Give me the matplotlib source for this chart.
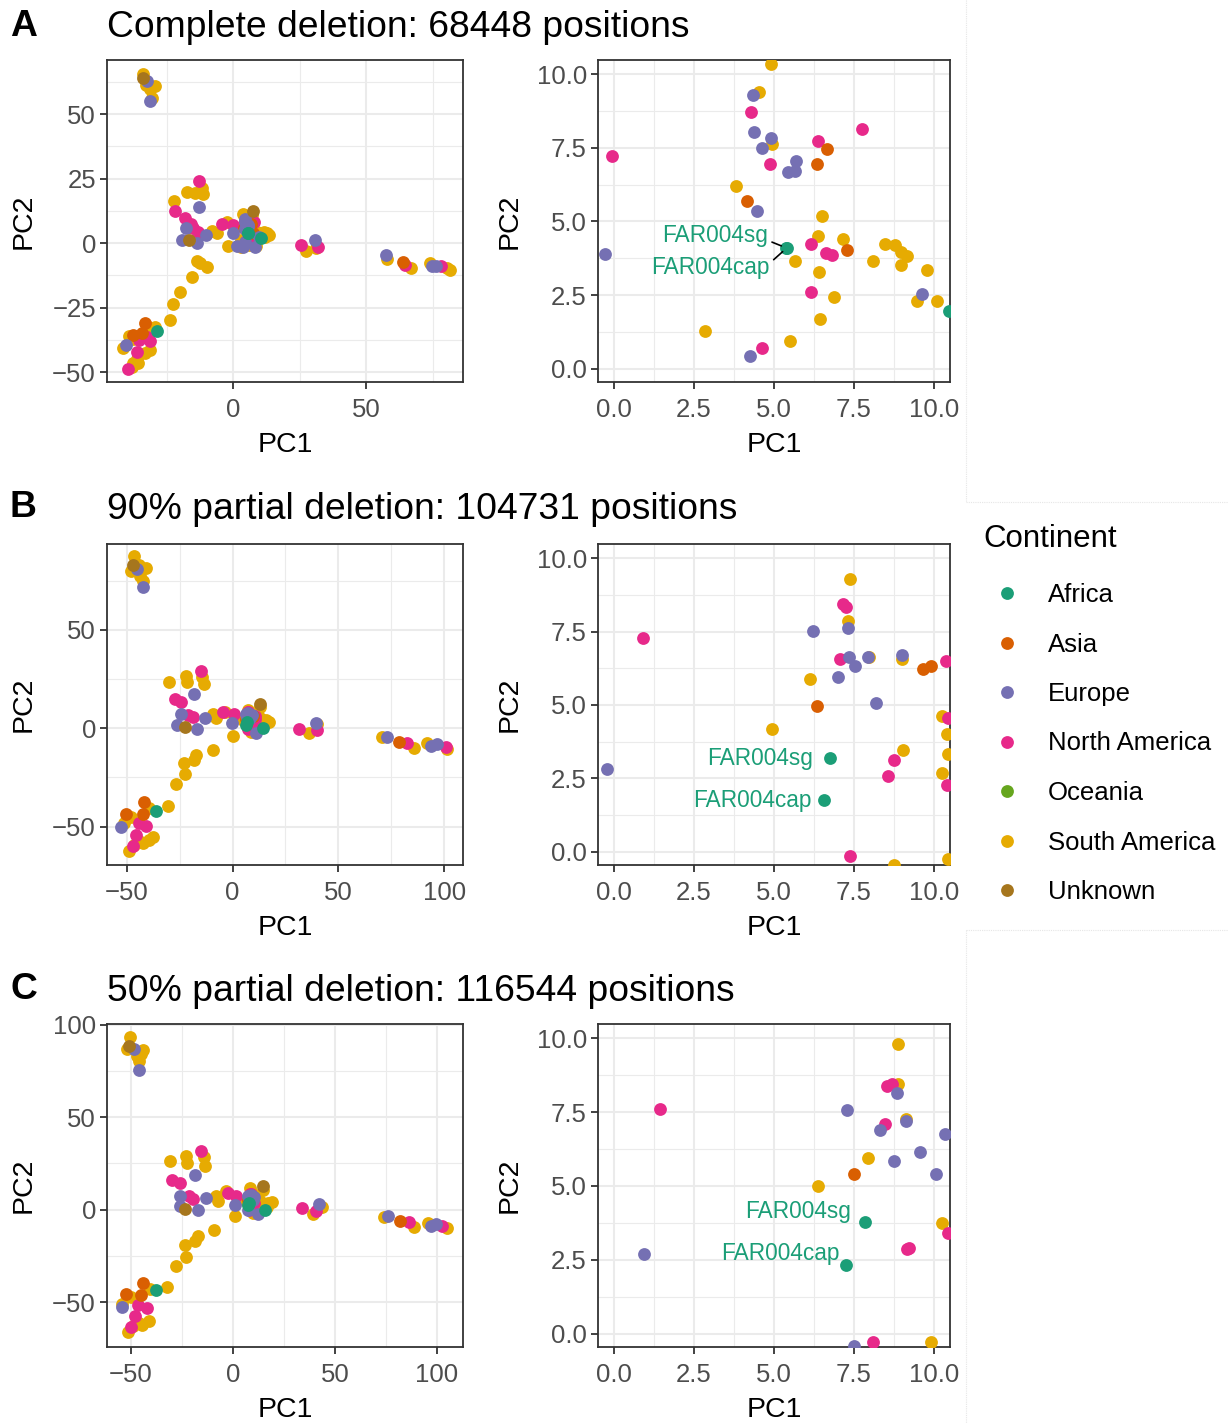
import matplotlib
matplotlib.use('Agg')
import matplotlib.pyplot as plt

plt.rcParams['font.family'] = ['Liberation Sans', 'DejaVu Sans']

continents = ['Africa', 'Asia', 'Europe', 'North America', 'Oceania', 'South America', 'Unknown']
colours = ['#1B9E77', '#D95F02', '#7570B3', '#E7298A', '#66A61E', '#E6AB02', '#A6761D']
draw_order = ['South America', 'North America', 'Asia', 'Europe', 'Unknown', 'Oceania', 'Africa']

letters = ['A', 'B', 'C']
titles = ['Complete deletion: 68448 positions',
          '90% partial deletion: 104731 positions',
          '50% partial deletion: 116544 positions']

# ---- A: complete deletion (PC1, PC2) ----
a_sam = [(-34, 65.7), (-33, 61.5), (-29.4, 60.9), (-31.3, 59.6), (-30.7, 56.3),
         (-11.9, 21.4), (-11.3, 19), (-17.5, 19.8), (-14.4, 19.4), (-22.3, 16.5),
         (-8.1, 4.8), (-6.3, 3.9), (-2.5, 8.4), (-1.9, -1),
         (6.9, 11), (3.8, 11.3), (11.3, 3.2), (12.5, 3.8), (13.5, 3.2), (12, 2.3), (11.5, 4.5),
         (8.5, -1.0), (3, -1.5), (6, -0.8),
         (31, -1.7), (27.3, -3.2),
         (57.9, -6.1), (67, -9.7), (73.9, -7.8), (80.2, -9.7), (81.5, -10.4),
         (-13.8, -6.9), (-12.5, -7.8), (-9.8, -9.1), (-15.7, -13), (-20, -19), (-22.6, -23.7), (-23.8, -29.8),
         (-32.6, -32), (-29.4, -32.4), (-39.1, -36), (-37.6, -37.2), (-41.6, -40.5), (-31.3, -41.4),
         (-33.2, -42.4), (-36.3, -44.7), (-37.6, -46.6), (-38.2, -47.9), (-35.7, -46.6),
         (4.90, 10.34), (4.54, 9.39), (4.95, 7.62), (3.80, 6.22), (6.51, 5.17), (6.39, 4.52),
         (7.15, 4.40), (5.65, 3.67), (6.42, 3.28), (8.08, 3.67), (8.48, 4.24), (8.79, 4.21),
         (8.96, 3.96), (9.17, 3.81), (8.96, 3.51), (9.79, 3.36), (6.89, 2.43), (9.48, 2.29),
         (10.08, 2.29), (6.45, 1.69), (2.85, 1.29), (5.49, 0.95)]
a_nam = [(-12.9, 24.2), (-21.9, 12.6), (-18.2, 9.7), (-15, 5.8), (-13.2, 4.5), (-16, 7.5), (-4.4, 7.4),
         (25.3, -0.6), (32, -1.3), (64.5, -8.4), (78.3, -8.7),
         (-32.6, -36.3), (-31.3, -38), (-35.3, -37.6), (-36.3, -42.1), (-39.5, -48.6),
         (4.27, 8.70), (7.75, 8.14), (6.39, 7.74), (-0.07, 7.21), (4.87, 6.96), (6.17, 4.23),
         (6.63, 3.93), (6.81, 3.85), (6.17, 2.60), (4.64, 0.70)]
a_asia = [(63.7, -7.1), (-33.2, -31.1), (-37.6, -35.4), (-34.5, -35),
          (6.66, 7.45), (6.34, 6.96), (4.15, 5.71), (7.27, 4.02)]
a_eur = [(-32.6, 62.8), (-31.3, 55), (-12.8, 13.9), (-17.8, 5.8), (-19.4, 1.3), (-13.8, 0), (-10.3, 3.2),
         (8.1, -1.3), (3.8, -1.6), (1.5, -1.2), (30.7, 1.3), (57.6, -4.5), (74.9, -8.7), (76.4, -8.7),
         (-40.5, -39.5),
         (4.33, 9.28), (4.38, 8.02), (4.92, 7.83), (4.61, 7.49), (5.68, 7.04), (5.44, 6.67),
         (5.65, 6.72), (4.46, 5.34), (-0.28, 3.91), (9.62, 2.53), (4.25, 0.44)]
a_unk = [(-33.8, 63.9), (-16.5, 1.3), (7.5, 12.6)]
a_afr = [(-28.6, -34.1), (10.47, 1.95), (5.39, 4.10), (5.40, 4.10)]

# ---- B: 90% partial deletion ----
b_sam = [(-46.4, 87.6), (-48, 80.2), (-40.9, 81.4), (-42.5, 75.1), (-43.5, 77.5), (-44, 83),
         (-14.2, 26.3), (-13.4, 22.5), (-22, 26.6), (-21.3, 23.7), (-29.9, 23.7),
         (-9.4, 7.3), (-7.9, 5.1), (-3.5, 8.5), (0.3, -3.9),
         (13.1, 11), (12, 3), (13.5, 4.5), (15, 2.5), (17.3, 3.4), (11.5, 1), (12.5, 5.8),
         (8.7, -1.7), (14.5, 1.5), (16, 4),
         (36.2, -2.2), (40.1, 2),
         (70.8, -4.2), (85.8, -10.2), (92.1, -7.6), (101.5, -10.7),
         (-9.4, -11), (-17.3, -13.6), (-18.1, -16.1), (-22.8, -17.5), (-22.4, -23.2), (-26.8, -28.3), (-30.7, -39.3),
         (-39.4, -40.3), (-48, -44.9), (-51.2, -48.3), (-39.4, -56.8), (-42.5, -58.5), (-46.4, -59.3),
         (-49.1, -62.2), (-44, -57.5), (-37.5, -55.5),
         (7.39, 9.28), (7.31, 7.86), (7.98, 6.64), (8.99, 6.58), (6.11, 5.88), (10.26, 4.63),
         (4.94, 4.17), (10.41, 4.0), (9.02, 3.47), (10.26, 2.68), (10.44, 3.33), (8.76, -0.45), (10.44, -0.23)]
b_nam = [(-15, 29.3), (-27.1, 14.9), (-24.4, 13.2), (-18.9, 5.9), (-21, 7), (-4.7, 8.5),
         (31.5, -0.3), (40.1, -0.8), (82.6, -7.3), (100.7, -9.3),
         (-40.9, -49.7), (-44.1, -48.3), (-45.6, -54.2), (-47, -60),
         (7.15, 8.42), (7.25, 8.34), (0.91, 7.29), (7.07, 6.56), (10.39, 6.49), (10.45, 4.55),
         (8.76, 3.11), (8.57, 2.57), (10.41, 2.29), (7.36, -0.15)]
b_asia = [(78.7, -6.8), (-41.7, -37.3), (-50.4, -43.6), (-42.5, -43.6),
          (9.67, 6.21), (9.90, 6.32), (6.35, 4.98)]
b_eur = [(-44.9, 80.8), (-42.5, 72), (-18.1, 17.3), (-24.4, 7.3), (-26, 1.7), (-17, -0.5), (-12.9, 5.1),
         (11, -2.2), (39.4, 2.5), (73.2, -4.2), (96.8, -8), (93.7, -9), (-52.7, -50.3),
         (7.31, 7.62), (6.22, 7.51), (7.34, 6.64), (7.93, 6.64), (7.54, 6.33), (8.99, 6.70),
         (7.0, 5.94), (8.19, 5.06), (-0.21, 2.83)]
b_unk = [(-47.2, 83.1), (-22.4, 0.8), (13.1, 12.4)]
b_afr = [(14.2, 0), (-36.2, -41.9), (6.76, 3.21), (6.56, 1.78)]

# ---- C: 50% partial deletion ----
c_sam = [(-50.6, 93.3), (-52.2, 86.8), (-44, 86.5), (-46, 80.2), (-47.3, 82.9), (-45, 84),
         (-14.4, 28.3), (-13.9, 23.8), (-23.2, 28.8), (-22.5, 25.2), (-31, 26.1),
         (-8.2, 7.2), (-7.3, 4.5), (-3.3, 9.9), (0.8, -3.6),
         (14.7, 10.8), (8.2, 11.6), (19.2, 4), (12, 3), (13.5, 4.5), (15, 2.5), (17, 3.5),
         (11.5, 1), (10, -1.5), (16.5, 1.5),
         (43.7, 1.4), (39.2, -2.2),
         (74.2, -4), (88.9, -9.4), (95.9, -7.2), (105.2, -9.9),
         (-9.3, -11.2), (-17.1, -14.4), (-18.8, -17.1), (-23.7, -18.9), (-23.2, -25.6), (-28.1, -30.3), (-32.6, -41.8),
         (-40.8, -42.9), (-49.8, -47.2), (-54.2, -50.8), (-41.1, -60.4), (-44.4, -62.2), (-48.9, -62.7),
         (-51.4, -66.3), (-46, -61),
         (8.86, 9.81), (8.89, 8.45), (9.12, 7.26), (7.93, 5.93), (6.37, 4.99), (10.26, 3.74), (9.90, -0.28)]
c_nam = [(-15.5, 31.5), (-29.7, 16.2), (-26.1, 14.4), (-19.6, 5.8), (-21.5, 7.5), (-2.4, 9),
         (33.9, 0.9), (41, -0.5), (86.5, -6.8), (102.8, -8.6),
         (-42.4, -53.2), (-46.5, -51.4), (-48.1, -57.7), (-50, -63.5),
         (8.53, 8.39), (8.68, 8.45), (1.45, 7.60), (8.48, 7.09), (10.45, 3.40), (9.22, 2.91),
         (9.17, 2.88), (8.08, -0.28)]
c_asia = [(82.1, -6.3), (-44, -39.6), (-52.5, -45.4), (-44.9, -45.9), (7.49, 5.41)]
c_eur = [(-48.6, 86.8), (-46, 75.7), (-18.8, 18.6), (-26.1, 7.6), (-26.1, 1.8), (-17.1, 0), (-13, 6.3),
         (12.2, -2.2), (42.4, 3.2), (76.3, -3.6), (99.5, -7.6), (97, -9), (-54.6, -52.6),
         (8.83, 8.16), (7.27, 7.57), (9.12, 7.20), (8.31, 6.88), (10.34, 6.75), (9.55, 6.15),
         (8.76, 5.86), (10.05, 5.42), (0.93, 2.69), (7.51, -0.40)]
c_unk = [(-50.9, 88.6), (-23.7, 0.5), (14.7, 12.6)]
c_afr = [(15.5, 0), (-37.8, -43.6), (7.85, 3.78), (7.25, 2.32)]

# FAR004 label positions (text anchor, right aligned) in the zoomed panels
far_sg = [(4.81, 4.51), (6.21, 3.18), (7.42, 4.13)]
far_cap = [(4.87, 3.43), (6.17, 1.76), (7.04, 2.73)]

rows = [
    {'South America': a_sam, 'North America': a_nam, 'Asia': a_asia, 'Europe': a_eur,
     'Unknown': a_unk, 'Africa': a_afr},
    {'South America': b_sam, 'North America': b_nam, 'Asia': b_asia, 'Europe': b_eur,
     'Unknown': b_unk, 'Africa': b_afr},
    {'South America': c_sam, 'North America': c_nam, 'Asia': c_asia, 'Europe': c_eur,
     'Unknown': c_unk, 'Africa': c_afr},
]
left_lims = [((-47.5, 86.4), (-53.8, 71.0)), ((-59.3, 108.9), (-69.5, 93.7)), ((-61.8, 112.9), (-74.2, 100.4))]
left_xt = [([0, 50], [-25, 25, 75]), ([-50, 0, 50, 100], [-25, 25, 75]), ([-50, 0, 50, 100], [-25, 25, 75])]
left_yt = [([-50, -25, 0, 25, 50], [-37.5, -12.5, 12.5, 37.5, 62.5]),
           ([-50, 0, 50], [-25, 25, 75]), ([-50, 0, 50, 100], [-25, 25, 75])]
zoom_ticks = [0, 2.5, 5, 7.5, 10]
zoom_minor = [1.25, 3.75, 6.25, 8.75]

W, H = 1228, 1423
col = dict(zip(continents, colours))
fig = plt.figure(figsize=(W / 100, H / 100), dpi=100)


def box(l, t, r, b):
    return [l / W, 1 - b / H, (r - l) / W, (b - t) / H]


def fmt(v):
    return f'{v:g}'.replace('-', '\u2212')


def style(ax, major_x, minor_x, major_y, minor_y, xlab, ylab):
    ax.set_xticks(major_x)
    ax.set_xticks(minor_x, minor=True)
    ax.set_yticks(major_y)
    ax.set_yticks(minor_y, minor=True)
    ax.set_xticklabels(xlab)
    ax.set_yticklabels(ylab)
    ax.set_axisbelow(True)
    ax.grid(which='major', color='#EBEBEB', lw=1.5)
    ax.grid(which='minor', color='#EBEBEB', lw=0.8)
    for s in ax.spines.values():
        s.set_color('#333333')
        s.set_linewidth(1.3)
    ax.tick_params(which='major', length=5, width=1.3, color='#333333',
                   labelcolor='#4D4D4D', labelsize=18.5, pad=3)
    ax.tick_params(axis='x', which='major', pad=6.5)
    ax.tick_params(which='minor', length=0)


def draw_points(ax, groups):
    for name in draw_order:
        pts = groups.get(name, [])
        if not pts:
            continue
        xs = [p[0] for p in pts]
        ys = [p[1] for p in pts]
        ax.scatter(xs, ys, s=85, color=col[name], linewidths=0, zorder=3)


tops = [60, 544, 1024]
bottoms = [382, 865, 1347]
letter_base = [36, 517, 999]
title_base = [37, 519, 1001]

for i in range(3):
    t, b = tops[i], bottoms[i]
    groups = rows[i]

    axl = fig.add_axes(box(107, t, 463, b))
    draw_points(axl, groups)
    axl.set_xlim(*left_lims[i][0])
    axl.set_ylim(*left_lims[i][1])
    style(axl, left_xt[i][0], left_xt[i][1], left_yt[i][0], left_yt[i][1],
          [fmt(v) for v in left_xt[i][0]], [fmt(v) for v in left_yt[i][0]])

    axr = fig.add_axes(box(598, t, 950, b))
    draw_points(axr, groups)
    axr.set_xlim(-0.5, 10.5)
    axr.set_ylim(-0.45, 10.48)
    style(axr, zoom_ticks, zoom_minor, zoom_ticks, zoom_minor,
          [f'{v:.1f}' for v in zoom_ticks], [f'{v:.1f}' for v in zoom_ticks])

    afr = groups['Africa']
    sg_pt, cap_pt = afr[-2], afr[-1]
    if i == 0:
        axr.annotate('FAR004sg', xy=sg_pt, xytext=far_sg[i], ha='right', va='center',
                     color=col['Africa'], fontsize=16.3, zorder=5,
                     arrowprops=dict(arrowstyle='-', color='black', lw=1.2,
                                     relpos=(1, 0.3), shrinkA=1, shrinkB=4))
        axr.annotate('FAR004cap', xy=cap_pt, xytext=far_cap[i], ha='right', va='center',
                     color=col['Africa'], fontsize=16.3, zorder=5,
                     arrowprops=dict(arrowstyle='-', color='black', lw=1.2,
                                     relpos=(1, 0.7), shrinkA=1, shrinkB=4))
    else:
        axr.text(*far_sg[i], 'FAR004sg', ha='right', va='center',
                 color=col['Africa'], fontsize=16.3, zorder=5)
        axr.text(*far_cap[i], 'FAR004cap', ha='right', va='center',
                 color=col['Africa'], fontsize=16.3, zorder=5)

    # panel letter and title
    fig.text(10 / W, 1 - letter_base[i] / H, letters[i], fontsize=26.8, fontweight='bold', va='baseline')
    fig.text(107 / W, 1 - title_base[i] / H, titles[i], fontsize=26.8, va='baseline')

    # axis titles
    for cx in (285, 774):
        fig.text(cx / W, 1 - (b + 70) / H, 'PC1', fontsize=20.5, ha='center', va='baseline')
    for cx in (24, 510):
        fig.text(cx / W, 1 - ((t + b) / 2) / H, 'PC2', fontsize=20.5, rotation=90,
                 ha='center', va='center')

# legend and faint separators
leg = fig.add_axes([0, 0, 1, 1])
leg.set_xlim(0, W)
leg.set_ylim(H, 0)
leg.axis('off')
for xs, ys in (([966, 966], [0, 502]), ([966, W], [502, 502]),
               ([966, W], [930, 930]), ([966, 966], [930, H])):
    leg.plot(xs, ys, color='#E6E6E6', lw=0.8, ls=(0, (1, 1)))
leg.text(983, 547, 'Continent', fontsize=22.5, va='baseline')
for k, name in enumerate(continents):
    yk = 593 + 49.5 * k
    leg.scatter([1007], [yk], s=85, color=colours[k], linewidths=0)
    leg.text(1048, yk + 9, name, fontsize=18.5, va='baseline')

fig.savefig('out.png', dpi=100)
